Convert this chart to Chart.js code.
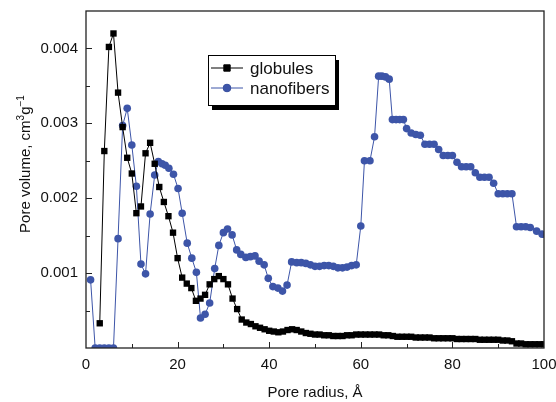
<!DOCTYPE html>
<html>
<head>
<meta charset="utf-8">
<script src="https://cdn.jsdelivr.net/npm/chart.js@4.4.1/dist/chart.umd.min.js"></script>
<style>
  body { margin: 0; background: #fff; }
  canvas { display: block; }
</style>
</head>
<body>
<canvas id="poreChart" width="556" height="402"></canvas>
<script>
// pore radius (Å) and pore volume (cm3/g)
const globulesX = [3, 4, 5, 6, 7, 8, 9, 10, 11, 12, 13, 14, 15, 16, 17, 18, 19, 20,
  21, 22, 23, 24, 25, 26, 27, 28, 29, 30, 31, 32, 33, 34, 35, 36, 37, 38, 39, 40,
  41, 42, 43, 44, 45, 46, 47, 48, 49, 50, 51, 52, 53, 54, 55, 56, 57, 58, 59, 60,
  61, 62, 63, 64, 65, 66, 67, 68, 69, 70, 71, 72, 73, 74, 75, 76, 77, 78, 79, 80,
  81, 82, 83, 84, 85, 86, 87, 88, 89, 90, 91, 92, 93, 94, 95, 96, 97, 98, 99, 100];
const globulesY = [0.00033, 0.00263, 0.00402, 0.0042, 0.00341, 0.00295, 0.00254, 0.00233,
  0.0018, 0.00189, 0.0026, 0.00274, 0.00246, 0.00215, 0.00195, 0.00176, 0.00154, 0.0012,
  0.00094, 0.00086, 0.0008, 0.00063, 0.00066, 0.00071, 0.00085, 0.00092, 0.00096, 0.00092,
  0.00085, 0.00066, 0.00052, 0.00038, 0.00034, 0.00032, 0.00029, 0.00027, 0.00025, 0.00023,
  0.00022, 0.00021, 0.00022, 0.00024, 0.00025, 0.00024, 0.00022, 0.0002, 0.00019, 0.00018,
  0.00018, 0.00017, 0.00017, 0.00016, 0.00016, 0.00016, 0.00017, 0.00017, 0.00018, 0.00018,
  0.00018, 0.00018, 0.00018, 0.00018, 0.00017, 0.00017, 0.00016, 0.00015, 0.00015, 0.00015,
  0.00015, 0.00014, 0.00014, 0.00014, 0.00014, 0.00013, 0.00013, 0.00013, 0.00013, 0.00013,
  0.00012, 0.00012, 0.00012, 0.00012, 0.00012, 0.00011, 0.00011, 0.00011, 0.00011, 0.00011,
  0.0001, 0.0001, 0.00009, 0.00006, 0.00006, 0.00005, 0.00005, 0.00005, 0.00005, 0.00005];

const nanofibersX = [1, 2, 3, 4, 5, 6, 7, 8, 9, 10, 11, 12, 13, 14, 15, 15.8, 16.6, 17.3,
  18.1, 19.1, 20.1, 21, 22.1, 23.1, 24.1, 25, 26, 27, 28.1, 29, 30, 30.9, 31.9, 32.9,
  33.8, 34.9, 35.9, 36.9, 37.8, 38.9, 39.8, 40.8, 41.9, 42.9, 43.9, 44.9, 46, 47, 48,
  49, 50, 51, 52, 53, 54, 55, 56, 57, 58, 59, 60, 60.8, 62, 63, 63.9, 64.6, 65.4, 66.2,
  66.9, 67.7, 68.5, 69.3, 70, 71, 72, 73, 74, 75, 76, 77, 78, 79, 80, 81, 82, 83, 84,
  85, 86, 87, 88, 89, 90, 91, 92, 93, 94, 95, 96, 97, 98.4, 99.6];
const nanofibersY = [0.00091, 0, 0, 0, 0, 0, 0.00146, 0.00297, 0.0032, 0.00271, 0.00216,
  0.00112, 0.00099, 0.00179, 0.00231, 0.00249, 0.00246, 0.00244, 0.0024, 0.00232, 0.00213,
  0.0018, 0.0014, 0.0012, 0.00101, 0.0004, 0.00045, 0.0006, 0.00106, 0.00137, 0.00154,
  0.00159, 0.00151, 0.00131, 0.00125, 0.00121, 0.00122, 0.00123, 0.00116, 0.00111, 0.00093,
  0.00082, 0.0008, 0.00076, 0.00084, 0.00115, 0.00114, 0.00114, 0.00113, 0.00111, 0.00109,
  0.00109, 0.0011, 0.0011, 0.00109, 0.00107, 0.00107, 0.00108, 0.0011, 0.00111, 0.00163,
  0.0025, 0.0025, 0.00282, 0.00363, 0.00363, 0.00362, 0.00359, 0.00305, 0.00305, 0.00305,
  0.00305, 0.00293, 0.00287, 0.00285, 0.00284, 0.00272, 0.00272, 0.00272, 0.00265, 0.00257,
  0.00257, 0.00257, 0.00248, 0.00242, 0.00242, 0.00242, 0.00234, 0.00228, 0.00228, 0.00228,
  0.0022, 0.00206, 0.00206, 0.00206, 0.00206, 0.00162, 0.00162, 0.00162, 0.00161, 0.00156,
  0.00152];

const seriesNames = ['globules', 'nanofibers'];
const xTickLabels = [0, 20, 40, 60, 80, 100];
const yTickLabels = [0.001, 0.002, 0.003, 0.004];

const BLUE = '#3d55a8';
const FONT = '"Liberation Sans", Arial, sans-serif';

function pairs(xs, ys) {
  return xs.map((x, i) => ({ x: x, y: ys[i] }));
}

// frame, inward ticks, y title and the boxed legend
const decorations = {
  id: 'decorations',
  afterDatasetsDraw(chart) {
    const ctx = chart.ctx;
    const a = chart.chartArea;
    const xs = chart.scales.x;
    const ys = chart.scales.y;
    ctx.save();
    ctx.strokeStyle = '#222';
    ctx.lineWidth = 1.3;
    ctx.strokeRect(a.left, a.top, a.right - a.left, a.bottom - a.top);

    ctx.lineWidth = 1;
    ctx.beginPath();
    for (let v = 10; v < 100; v += 10) {
      const px = Math.round(xs.getPixelForValue(v)) + 0.5;
      const len = v % 20 === 0 ? 6 : 4;
      ctx.moveTo(px, a.bottom);
      ctx.lineTo(px, a.bottom - len);
    }
    for (let k = 1; k < 9; k++) {
      const py = Math.round(ys.getPixelForValue(k * 0.0005)) + 0.5;
      const len = k % 2 === 0 ? 6 : 4;
      ctx.moveTo(a.left, py);
      ctx.lineTo(a.left + len, py);
    }
    ctx.stroke();

    // y axis title with superscripts
    ctx.fillStyle = '#111';
    ctx.translate(25, 164);
    ctx.rotate(-Math.PI / 2);
    ctx.textBaseline = 'alphabetic';
    const parts = [['Pore volume, cm', 15, 0], ['3', 10, -6], ['g', 15, 0], ['\u22121', 10, -6]];
    let total = 0;
    parts.forEach(p => { ctx.font = p[1] + 'px ' + FONT; total += ctx.measureText(p[0]).width; });
    let cx = -total / 2;
    parts.forEach(p => {
      ctx.font = p[1] + 'px ' + FONT;
      ctx.fillText(p[0], cx, 5 + p[2]);
      cx += ctx.measureText(p[0]).width;
    });
    ctx.restore();

    // legend box
    ctx.save();
    const lx = 208, ly = 55, lw = 127, lh = 50;
    ctx.fillStyle = '#000';
    ctx.fillRect(lx + 4, ly + 5, lw, lh);
    ctx.fillStyle = '#fff';
    ctx.fillRect(lx, ly, lw, lh);
    ctx.strokeStyle = '#000';
    ctx.lineWidth = 1;
    ctx.strokeRect(lx + 0.5, ly + 0.5, lw, lh);
    chart.data.datasets.forEach((ds, i) => {
      const ry = ly + 13 + i * 20;
      ctx.strokeStyle = ds.borderColor;
      ctx.lineWidth = 1;
      ctx.beginPath();
      ctx.moveTo(lx + 3, ry);
      ctx.lineTo(lx + 35, ry);
      ctx.stroke();
      Chart.helpers.drawPoint(ctx, {
        pointStyle: ds.pointStyle, radius: ds.pointRadius, borderWidth: 1
      }, lx + 19, ry);
      ctx.fillStyle = ds.pointBackgroundColor;
      ctx.fill();
      ctx.fillStyle = '#111';
      ctx.font = '17px ' + FONT;
      ctx.textBaseline = 'middle';
      ctx.fillText(ds.label, lx + 42, ry + 1);
    });
    ctx.restore();
  }
};

new Chart(document.getElementById('poreChart'), {
  type: 'scatter',
  data: {
    datasets: [
      {
        label: seriesNames[0],
        data: pairs(globulesX, globulesY),
        showLine: true,
        borderColor: '#000',
        borderWidth: 1,
        pointStyle: 'rect',
        pointRadius: 4.5,
        pointBackgroundColor: '#000',
        pointBorderColor: '#000',
        pointBorderWidth: 0
      },
      {
        label: seriesNames[1],
        data: pairs(nanofibersX, nanofibersY),
        showLine: true,
        borderColor: BLUE,
        borderWidth: 1,
        pointStyle: 'circle',
        pointRadius: 3.8,
        pointBackgroundColor: BLUE,
        pointBorderColor: BLUE,
        pointBorderWidth: 0
      }
    ]
  },
  options: {
    responsive: false,
    animation: false,
    devicePixelRatio: 1,
    layout: { padding: { top: 11, right: 12, left: 0, bottom: 0 } },
    plugins: {
      legend: { display: false },
      tooltip: { enabled: false }
    },
    scales: {
      x: {
        type: 'linear',
        min: 0,
        max: 100,
        border: { display: false },
        grid: { display: false, drawTicks: false },
        ticks: {
          stepSize: 10,
          padding: 8,
          color: '#111',
          font: { family: FONT, size: 15 },
          maxRotation: 0,
          callback: v => xTickLabels.includes(v) ? String(v) : ''
        },
        title: {
          display: true,
          text: 'Pore radius, \u00c5',
          color: '#111',
          font: { family: FONT, size: 15 },
          padding: { top: 0, bottom: 0 }
        },
        afterFit: s => { s.height = 54; s.paddingLeft = 0; s.paddingRight = 0; }
      },
      y: {
        type: 'linear',
        min: 0,
        max: 0.0045,
        border: { display: false },
        grid: { display: false, drawTicks: false },
        ticks: {
          stepSize: 0.0005,
          padding: 8,
          color: '#111',
          font: { family: FONT, size: 15 },
          callback: v => {
            const hit = yTickLabels.find(t => Math.abs(t - v) < 1e-7);
            return hit ? hit.toFixed(3) : '';
          }
        },
        afterFit: s => { s.width = 86; s.paddingTop = 0; s.paddingBottom = 0; }
      }
    }
  },
  plugins: [decorations]
});
</script>
</body>
</html>
